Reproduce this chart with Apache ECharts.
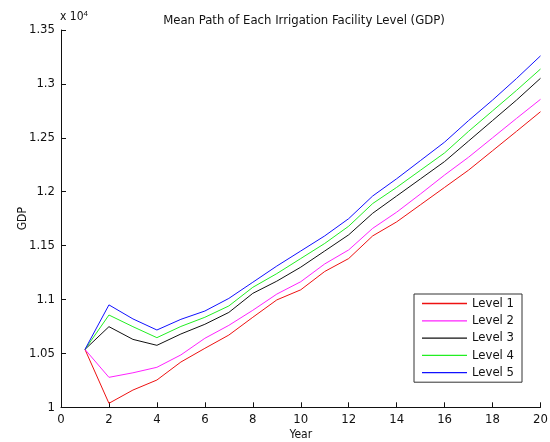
<!DOCTYPE html>
<html>
<head>
<meta charset="utf-8">
<script src="https://cdn.jsdelivr.net/npm/echarts@6/dist/echarts.min.js"></script>
<style>
  html, body { margin: 0; padding: 0; background: #fff; }
  #chart { width: 550px; height: 442px; }
</style>
</head>
<body>
<div id="chart"></div>
<script>
  // years on the x axis
  let years = [1, 2, 3, 4, 5, 6, 7, 8, 9, 10, 11, 12, 13, 14, 15, 16, 17, 18, 19, 20]
  // mean GDP path per level
  let level1 = [10537, 10037, 10160, 10253, 10420, 10547, 10670, 10835, 10996, 11090, 11260, 11380, 11590, 11720, 11880, 12040, 12200, 12380, 12560, 12742]
  let level2 = [10537, 10278, 10320, 10371, 10486, 10640, 10760, 10900, 11050, 11165, 11330, 11460, 11660, 11810, 11980, 12155, 12320, 12500, 12680, 12857]
  let level3 = [10537, 10748, 10630, 10575, 10680, 10770, 10880, 11057, 11170, 11300, 11450, 11600, 11800, 11960, 12120, 12280, 12470, 12660, 12850, 13052]
  let level4 = [10537, 10856, 10748, 10646, 10750, 10835, 10940, 11113, 11240, 11380, 11520, 11680, 11890, 12040, 12200, 12360, 12560, 12750, 12940, 13138]
  let level5 = [10537, 10950, 10820, 10717, 10816, 10893, 11010, 11160, 11310, 11450, 11590, 11750, 11960, 12120, 12290, 12460, 12660, 12850, 13050, 13260]
  let names = ['Level 1', 'Level 2', 'Level 3', 'Level 4', 'Level 5']
  let colors = ['#ee1111', '#ff22ff', '#111111', '#22ee22', '#1111ff']

  let font = "'Liberation Sans Narrow', 'DejaVu Sans Condensed', Arial, sans-serif"
  let allData = [level1, level2, level3, level4, level5]
  let series = []
  allData.forEach((vals, k) => {
    series.push({
      name: names[k],
      type: 'line',
      symbol: 'none',
      data: vals.map((v, i) => [years[i], v]),
      lineStyle: { color: colors[k], width: 1 },
      itemStyle: { color: colors[k] },
      animation: false
    })
  })

  let option = {
    backgroundColor: '#fff',
    animation: false,
    title: {
      text: 'Mean Path of Each Irrigation Facility Level (GDP)',
      left: 299,
      textAlign: 'center',
      top: 9,
      textStyle: { fontSize: 13, fontWeight: 'normal', color: '#111', fontFamily: font }
    },
    legend: {
      orient: 'vertical',
      left: 414,
      top: 294,
      data: names,
      icon: 'path://M0,0H45V1.3H0Z',
      symbolKeepAspect: true,
      borderColor: '#333',
      borderWidth: 1,
      padding: [3, 8, 3, 8],
      itemWidth: 45,
      itemHeight: 12,
      itemGap: 4.3,
      textStyle: { fontSize: 13, color: '#111', fontFamily: font }
    },
    grid: {
      left: 61,
      right: 9.5,
      top: 30,
      bottom: 34.7,
      containLabel: false,
      outerBoundsMode: 'none',
      show: false
    },
    xAxis: {
      type: 'value',
      min: 0,
      max: 20,
      interval: 2,
      name: 'Year',
      nameLocation: 'middle',
      nameGap: 22,
      nameMoveOverlap: false,
      nameTextStyle: { fontSize: 12, color: '#111', fontFamily: font },
      splitLine: { show: false },
      axisLine: { show: true, lineStyle: { color: '#111', width: 1 } },
      axisTick: { show: true, inside: true, length: 5, lineStyle: { color: '#111' } },
      axisLabel: { fontSize: 13, color: '#111', fontFamily: font, margin: 6 }
    },
    yAxis: {
      type: 'value',
      min: 10000,
      max: 13500,
      interval: 500,
      name: 'GDP',
      nameLocation: 'middle',
      nameGap: 32,
      nameMoveOverlap: false,
      nameTextStyle: { fontSize: 12, color: '#111', fontFamily: font },
      splitLine: { show: false },
      axisLine: { show: true, lineStyle: { color: '#111', width: 1 } },
      axisTick: { show: true, inside: true, length: 5, lineStyle: { color: '#111' } },
      axisLabel: {
        fontSize: 13,
        color: '#111',
        fontFamily: font,
        margin: 6,
        formatter: v => String(Math.round(v) / 10000)
      }
    },
    graphic: [{
      type: 'text',
      left: 60,
      top: 10,
      style: {
        text: 'x 10{sup|4}',
        font: '12px ' + font,
        fill: '#111',
        rich: { sup: { fontSize: 8, verticalAlign: 'top', padding: [0, 0, 6, 0], fill: '#111' } }
      }
    }],
    series: series
  }

  echarts.init(document.getElementById('chart')).setOption(option)
</script>
</body>
</html>
